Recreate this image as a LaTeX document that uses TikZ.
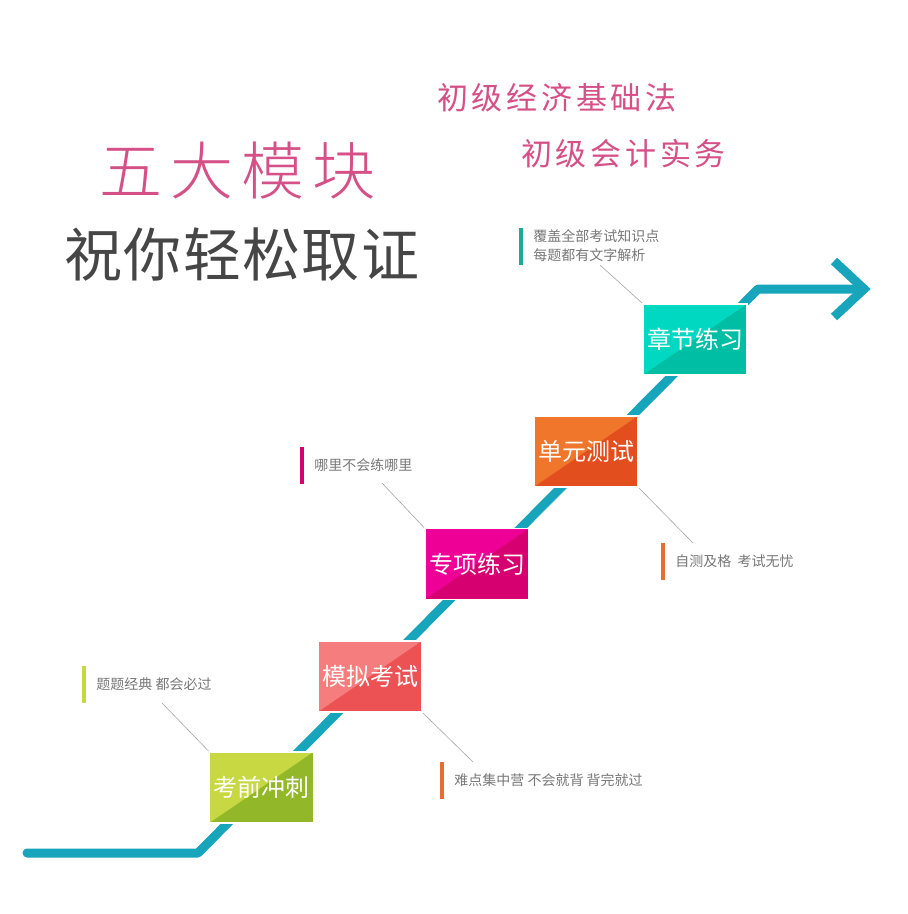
\documentclass[tikz,border=0pt]{standalone}
\usepackage{fontspec}
\usepackage{tikz}
\usetikzlibrary{positioning,shadows}
\setmainfont{Noto Sans CJK SC}
\IfFontExistsTF{Noto Sans CJK SC Light}
  {\newfontfamily\cjklight{Noto Sans CJK SC Light}}
  {\newfontfamily\cjklight{Noto Sans CJK SC}}
\definecolor{stairblue}{RGB}{22,165,187}
\definecolor{titlepink}{RGB}{214,80,136}
\definecolor{titlegray}{RGB}{70,70,70}
\definecolor{notegray}{RGB}{120,120,120}
\definecolor{leadgray}{RGB}{165,165,165}
\definecolor{greenA}{RGB}{200,216,66}
\definecolor{greenB}{RGB}{146,184,42}
\definecolor{redA}{RGB}{245,125,125}
\definecolor{redB}{RGB}{236,82,84}
\definecolor{pinkA}{RGB}{238,0,150}
\definecolor{pinkB}{RGB}{214,0,112}
\definecolor{orangeA}{RGB}{240,118,44}
\definecolor{orangeB}{RGB}{226,78,30}
\definecolor{tealA}{RGB}{0,216,194}
\definecolor{tealB}{RGB}{0,190,164}
\definecolor{barorange}{RGB}{230,110,50}
\definecolor{barteal}{RGB}{30,170,150}

\begin{document}
\begin{tikzpicture}[
  x=1pt, y=-1pt,
  module/.style 2 args={rectangle, draw=white, line width=1.8pt, fill=#1,
    minimum width=104pt, minimum height=71pt, inner sep=0pt, text=white,
    font=\fontsize{24}{28}\selectfont,
    drop shadow={opacity=0.25, shadow xshift=0.8pt, shadow yshift=-0.8pt},
    path picture={\fill[#2] (path picture bounding box.south west) -- (path picture bounding box.north east) -- (path picture bounding box.south east) -- cycle;}},
  bar/.style={rectangle, fill=#1, minimum width=4pt, minimum height=37pt, inner sep=0pt},
  note/.style={right=10pt of #1, inner sep=0pt, text=notegray, font=\fontsize{14}{19}\selectfont, align=left},
  leader/.style={draw=leadgray, line width=0.6pt},
  stair/.style={draw=stairblue, line width=9pt}
]
\useasboundingbox[fill=white] (0,0) rectangle (908,914);

% Headings
\node[anchor=west, inner sep=0pt, text=titlepink, font=\fontsize{31}{34}\selectfont\addfontfeatures{LetterSpace=12}] (subA) at (437,98) {初级经济基础法};
\node[anchor=west, inner sep=0pt, text=titlepink, font=\fontsize{31}{34}\selectfont\addfontfeatures{LetterSpace=12}] (subB) at (521,154) {初级会计实务};
\node[anchor=west, inner sep=0pt, text=titlepink, font=\cjklight\fontsize{63}{66}\selectfont\addfontfeatures{LetterSpace=13}] (head) at (99,171) {五大模块};
\node[anchor=west, inner sep=0pt, text=titlegray, font=\fontsize{58}{62}\selectfont\addfontfeatures{LetterSpace=2.5}] (wish) at (64,255) {祝你轻松取证};

% Staircase line
\coordinate (s0) at (27,853);
\coordinate (s1) at (198,853);
\coordinate (s2) at (758,289);
\coordinate (s3) at (864,289);
\draw[stair, line cap=round, line join=round] (s0) -- (s1) -- (s2) -- (s3);
\draw[stair, line join=miter] (834,261) -- (s3) -- (834,317);

% Five modules
\node[module={greenA}{greenB}] (m1) at (261.5,787.5) {考前冲刺};
\node[module={redA}{redB}] (m2) at (370,676.5) {模拟考试};
\node[module={pinkA}{pinkB}] (m3) at (477,564) {专项练习};
\node[module={orangeA}{orangeB}] (m4) at (586,451.5) {单元测试};
\node[module={tealA}{tealB}] (m5) at (695,339.5) {章节练习};

% Notes
\node[bar=greenA] (b1) at (84,684.5) {};
\node[note=b1] (n1) {题题经典 都会必过};
\node[bar=barorange] (b2) at (442,780) {};
\node[note=b2] (n2) {难点集中营 不会就背 背完就过};
\node[bar=pinkB] (b3) at (302,465) {};
\node[note=b3] (n3) {哪里不会练哪里};
\node[bar=barorange] (b4) at (663,561.5) {};
\node[note=b4] (n4) {自测及格\ \ 考试无忧};
\node[bar=barteal] (b5) at (521,246) {};
\node[note=b5] (n5) {覆盖全部考试知识点\\每题都有文字解析};

% Leader lines
\coordinate (c1) at (162,703);
\coordinate (c2) at (473,762);
\coordinate (c3) at (382,483);
\coordinate (c4) at (693,543);
\coordinate (c5) at (600,265);
\draw[leader] (c1) -- (m1.north west);
\draw[leader] (m2.south east) -- (c2);
\draw[leader] (c3) -- (m3.north west);
\draw[leader] (m4.south east) -- (c4);
\draw[leader] (c5) -- (m5.north west);

\end{tikzpicture}
\end{document}
